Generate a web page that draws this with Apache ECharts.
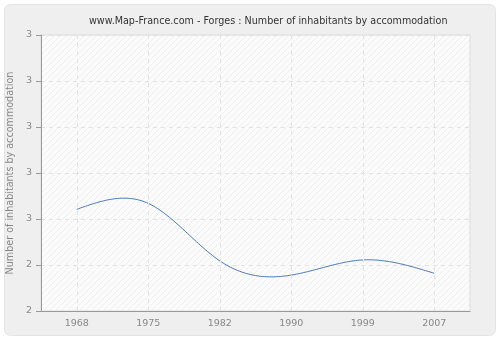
<!DOCTYPE html>
<html>
<head>
<meta charset="utf-8">
<script src="https://cdn.jsdelivr.net/npm/echarts@6/dist/echarts.min.js"></script>
<style>html,body{margin:0;padding:0;background:#fff}#c{width:500px;height:340px}</style>
</head>
<body>
<div id="c"></div>
<script>
var years = ['1968', '1975', '1982', '1990', '1999', '2007'];
var values = [2.621, 2.634, 2.509, 2.478, 2.511, 2.482];
var yTickValues = [2.4, 2.5, 2.6, 2.7, 2.8, 2.9, 3.0];
var yTickLabels = ['2', '2', '3', '3', '3', '3', '3'];

// natural cubic spline second derivatives (equally spaced categories)
function naturalSplineM(y) {
  var n = y.length, M = new Array(n).fill(0);
  if (n < 3) return M;
  var m = n - 2, c = [], d = [];
  for (var i = 0; i < m; i++) {
    var rhs = 6 * (y[i + 2] - 2 * y[i + 1] + y[i]);
    if (i === 0) { c[i] = 1 / 4; d[i] = rhs / 4; }
    else {
      var den = 4 - c[i - 1];
      c[i] = 1 / den; d[i] = (rhs - d[i - 1]) / den;
    }
  }
  var x = new Array(m);
  x[m - 1] = d[m - 1];
  for (var j = m - 2; j >= 0; j--) x[j] = d[j] - c[j] * x[j + 1];
  for (var k = 0; k < m; k++) M[k + 1] = x[k];
  return M;
}
var M = naturalSplineM(values);

var pc = document.createElement('canvas');
pc.width = 6; pc.height = 6;
var g = pc.getContext('2d');
g.fillStyle = '#fbfbfb'; g.fillRect(0, 0, 6, 6);
g.strokeStyle = '#efefef'; g.lineWidth = 1;
g.beginPath(); g.moveTo(0, 6); g.lineTo(6, 0); g.stroke();
g.beginPath(); g.moveTo(-1, 1); g.lineTo(1, -1); g.stroke();
g.beginPath(); g.moveTo(5, 7); g.lineTo(7, 5); g.stroke();

var FONT = 'DejaVu Sans';
var chart = echarts.init(document.getElementById('c'), null, {renderer: 'canvas'});
chart.setOption({
  backgroundColor: '#ffffff',
  animation: false,
  graphic: [{
    type: 'rect', z: -10, silent: true,
    shape: {x: 4.5, y: 4.5, width: 491, height: 331, r: 6},
    style: {fill: '#efefef', stroke: '#e4e4e4', lineWidth: 1}
  }],
  title: {
    text: 'www.Map-France.com - Forges : Number of inhabitants by accommodation',
    left: 84, top: 11,
    textStyle: {fontFamily: FONT, fontSize: 9.6, fontWeight: 'normal', color: '#333'}
  },
  grid: {
    left: 41, right: 30, top: 35, bottom: 29,
    outerBoundsMode: 'none', containLabel: false,
    show: true, backgroundColor: {image: pc, repeat: 'repeat'},
    borderColor: '#dddddd', borderWidth: 1
  },
  xAxis: {
    type: 'category', data: years, boundaryGap: true,
    axisLine: {lineStyle: {color: '#999', width: 1}},
    axisTick: {alignWithLabel: true, length: 5, lineStyle: {color: '#999'}},
    axisLabel: {color: '#888', fontFamily: FONT, fontSize: 9.5, margin: 8},
    splitLine: {show: false}
  },
  yAxis: {
    type: 'value', min: 2.4, max: 3.0, interval: 0.1,
    name: 'Number of inhabitants by accommodation',
    nameLocation: 'middle', nameGap: 19,
    nameTextStyle: {color: '#888', fontFamily: FONT, fontSize: 9.6},
    axisLine: {show: true, lineStyle: {color: '#999', width: 1}},
    axisTick: {show: true, length: 5, lineStyle: {color: '#999'}},
    axisLabel: {
      color: '#888', fontFamily: FONT, fontSize: 9.5, margin: 9,
      formatter: function (v) {
        for (var i = 0; i < yTickValues.length; i++) {
          if (Math.abs(yTickValues[i] - v) < 1e-6) return yTickLabels[i];
        }
        return '';
      }
    },
    splitLine: {show: true, lineStyle: {color: '#e2e2e2', type: [4, 4]}}
  },
  series: [{
    type: 'custom',
    data: values.map(function (v, i) { return [i, v]; }),
    clip: false,
    renderItem: function (params, api) {
      var i = params.dataIndex;
      if (i >= values.length - 1) return null;
      var p0 = api.coord([i, values[i]]);
      var p1 = api.coord([i + 1, values[i + 1]]);
      var pts = [], N = 40;
      for (var k = 0; k <= N; k++) {
        var t = k / N;
        var v = (1 - t) * values[i] + t * values[i + 1]
          - t * (1 - t) / 6 * ((2 - t) * M[i] + (1 + t) * M[i + 1]);
        var py = api.coord([i, v])[1];
        pts.push([p0[0] + t * (p1[0] - p0[0]), py]);
      }
      return {
        type: 'polyline', silent: true,
        shape: {points: pts},
        style: {stroke: '#4a78b0', lineWidth: 1, fill: null}
      };
    },
    markLine: {
      silent: true, symbol: 'none', label: {show: false},
      lineStyle: {color: '#e2e2e2', type: [4, 4], width: 1},
      data: years.map(function (y) { return {xAxis: y}; })
    }
  }]
});
</script>
</body>
</html>
